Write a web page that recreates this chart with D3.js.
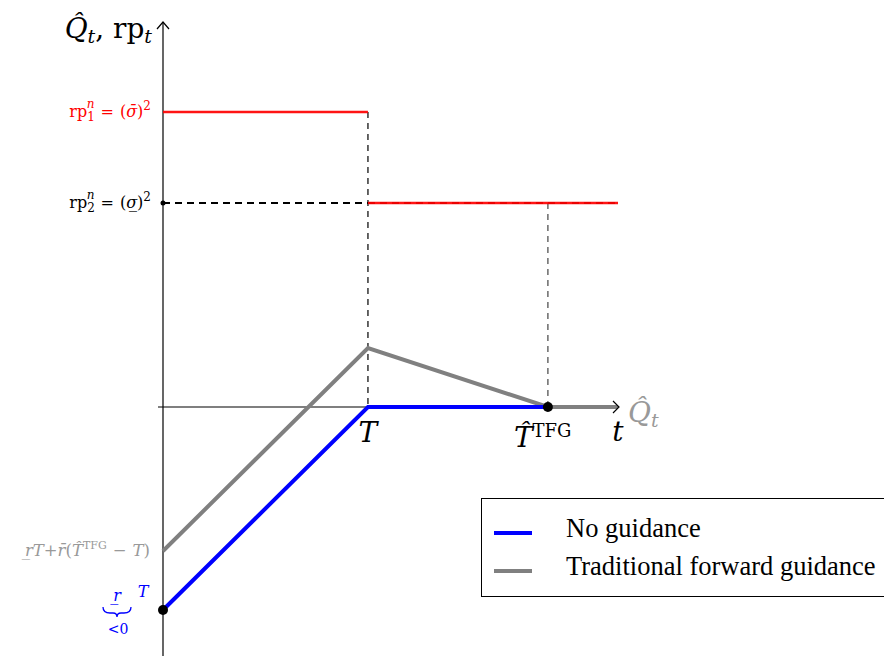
<!DOCTYPE html>
<html><head><meta charset="utf-8">
<script src="https://cdn.jsdelivr.net/npm/d3@7"></script>
<style>
html,body{margin:0;padding:0;background:#fff;}
svg{display:block;}
text{font-family:"DejaVu Serif",serif;}
.leg{font-family:"Liberation Serif","Times New Roman",serif;}
</style></head><body>
<svg id="c" width="884" height="656"></svg>
<script>
// ---- data ----
const T = 1.0;            // switch date
const T_TFG = 1.878;      // end of traditional forward guidance
const T_END = 2.22;       // end of plotted horizon
const blueT = [0, T, T_TFG];
const blueQ = [-2.03, 0, 0];
const grayT = [0, T, T_TFG, T_END];
const grayQ = [-1.44, 0.59, 0, 0];
const rpSegT = [[0, T], [T, T_END]];
const rpVals = [2.95, 2.04];
const legendNames = ["No guidance", "Traditional forward guidance"];
const legendColors = ["#0000ff", "#808080"];

const svg = d3.select("#c");
const x = d3.scaleLinear().domain([0, T_END]).range([163, 618]);
const y = d3.scaleLinear().domain([-2.49, 3.85]).range([656, 22]);

// axes
svg.append("line").attr("x1", x(0)).attr("x2", x(0)).attr("y1", 656).attr("y2", y(3.85))
  .attr("stroke", "#000").attr("stroke-width", 1.2);
svg.append("path").attr("d", `M${x(0)-6},${y(3.85)+7} L${x(0)},${y(3.85)} L${x(0)+6},${y(3.85)+7}`)
  .attr("fill", "none").attr("stroke", "#000").attr("stroke-width", 1.2);
svg.append("line").attr("x1", x(0) - 5).attr("x2", x(T_END)).attr("y1", y(0)).attr("y2", y(0))
  .attr("stroke", "#000").attr("stroke-width", 1.2);

// dashed guides
svg.append("line").attr("x1", x(0)).attr("x2", x(T)).attr("y1", y(rpVals[1])).attr("y2", y(rpVals[1]))
  .attr("stroke", "#000").attr("stroke-width", 2).attr("stroke-dasharray", "7,5");
svg.append("line").attr("x1", x(T)).attr("x2", x(T_END)).attr("y1", y(rpVals[1])).attr("y2", y(rpVals[1]))
  .attr("stroke", "#000").attr("stroke-width", 2).attr("stroke-dasharray", "7,5");
svg.append("line").attr("x1", x(T)).attr("x2", x(T)).attr("y1", y(rpVals[0])).attr("y2", y(0))
  .attr("stroke", "#000").attr("stroke-width", 1.2).attr("stroke-dasharray", "6,5");
svg.append("line").attr("x1", x(T_TFG)).attr("x2", x(T_TFG)).attr("y1", y(rpVals[1])).attr("y2", y(0))
  .attr("stroke", "#444").attr("stroke-width", 1.2).attr("stroke-dasharray", "6,5");

// red risk premium segments
svg.selectAll(".rp").data(rpSegT).join("line").attr("class", "rp")
  .attr("x1", d => x(d[0])).attr("x2", d => x(d[1]))
  .attr("y1", (d, i) => y(rpVals[i])).attr("y2", (d, i) => y(rpVals[i]))
  .attr("stroke", "#ff0000").attr("stroke-width", 2.4).attr("stroke-opacity", 0.92);

const line = d3.line().x(d => x(d[0])).y(d => y(d[1]));
svg.append("path").attr("d", line(grayT.map((t, i) => [t, grayQ[i]])))
  .attr("fill", "none").attr("stroke", "#808080").attr("stroke-width", 4);
svg.append("path").attr("d", line(blueT.map((t, i) => [t, blueQ[i]])))
  .attr("fill", "none").attr("stroke", "#0000ff").attr("stroke-width", 4);

// x arrow head
svg.append("path").attr("d", `M${x(T_END)-5},${y(0)-6} L${x(T_END)+1},${y(0)} L${x(T_END)-5},${y(0)+6}`)
  .attr("fill", "none").attr("stroke", "#000").attr("stroke-width", 1.2);

// dots
svg.append("circle").attr("cx", x(0)).attr("cy", y(rpVals[1])).attr("r", 2.5).attr("fill", "#000");
svg.append("circle").attr("cx", x(0)).attr("cy", y(blueQ[0])).attr("r", 5).attr("fill", "#000");
svg.append("circle").attr("cx", x(T_TFG)).attr("cy", y(0)).attr("r", 5).attr("fill", "#000");

// ---- texts ----
// y-axis title
const yt = svg.append("text").attr("x", 152).attr("y", 38).attr("text-anchor", "end")
  .attr("font-size", 28).attr("fill", "#000");
yt.append("tspan").attr("font-style", "italic").text("Q\u0302");
yt.append("tspan").attr("font-style", "italic").attr("font-size", 19).attr("dy", 5).text("t");
yt.append("tspan").attr("dy", -5).text(", rp");
yt.append("tspan").attr("font-style", "italic").attr("font-size", 19).attr("dy", 5).text("t");

// rp labels
function rpLabel(yy, sub, color, sym) {
  const g = svg.append("text").attr("x", 151).attr("y", yy + 5).attr("text-anchor", "end")
    .attr("font-size", 16).attr("fill", color);
  g.append("tspan").text("rp");
  g.append("tspan").attr("font-size", 12).attr("dy", 4).text(sub);
  g.append("tspan").attr("font-size", 12).attr("font-style", "italic").attr("dx", -8).attr("dy", -13).text("n");
  g.append("tspan").attr("dy", 9).attr("dx", 6).text("=");
  g.append("tspan").attr("dx", 6).text("(");
  g.append("tspan").attr("font-style", "italic").text(sym);
  g.append("tspan").text(")");
  g.append("tspan").attr("font-size", 12).attr("dy", -7).text("2");
}
rpLabel(y(rpVals[0]), "1", "#ff0000", "\u03C3\u0304");
rpLabel(y(rpVals[1]), "2", "#000", "\u03C3\u0332");

// gray intercept label
const gl = svg.append("text").attr("x", 150).attr("y", y(grayQ[0]) + 5).attr("text-anchor", "end")
  .attr("font-size", 16.5).attr("fill", "#999");
gl.append("tspan").attr("font-style", "italic").text("r\u0332T");
gl.append("tspan").text("+");
gl.append("tspan").attr("font-style", "italic").text("r\u0304");
gl.append("tspan").text("(");
gl.append("tspan").attr("font-style", "italic").text("T\u0302");
gl.append("tspan").attr("font-size", 11).attr("dy", -7).text("TFG");
gl.append("tspan").attr("dy", 7).attr("dx", 6).text("\u2212");
gl.append("tspan").attr("dx", 6).attr("font-style", "italic").text("T");
gl.append("tspan").text(")");

// blue intercept label
svg.append("text").attr("x", 117).attr("y", 601).attr("text-anchor", "middle")
  .attr("font-size", 16).attr("font-style", "italic").attr("fill", "#0000ff").text("r\u0332");
svg.append("text").attr("x", 143).attr("y", 597).attr("text-anchor", "middle")
  .attr("font-size", 16).attr("font-style", "italic").attr("fill", "#0000ff").text("T");
svg.append("path").attr("d", "M103,607 Q103,613 110,613 L113,613 Q117,613 117,617 Q117,613 121,613 L124,613 Q131,613 131,607")
  .attr("fill", "none").attr("stroke", "#0000ff").attr("stroke-width", 1.3);
svg.append("text").attr("x", 118).attr("y", 634).attr("text-anchor", "middle")
  .attr("font-size", 14).attr("fill", "#0000ff").text("<0");

// time labels
svg.append("text").attr("x", x(T)).attr("y", 442).attr("text-anchor", "middle")
  .attr("font-size", 28).attr("font-style", "italic").text("T");
const tt = svg.append("text").attr("x", x(T_TFG) - 34).attr("y", 447).attr("font-size", 28);
tt.append("tspan").attr("font-style", "italic").text("T\u0302");
tt.append("tspan").attr("font-size", 18).attr("dy", -10).text("TFG");
svg.append("text").attr("x", x(T_END)).attr("y", 441).attr("text-anchor", "middle")
  .attr("font-size", 28).attr("font-style", "italic").text("t");
const qt = svg.append("text").attr("x", 628).attr("y", 422).attr("font-size", 28).attr("fill", "#999");
qt.append("tspan").attr("font-style", "italic").text("Q\u0302");
qt.append("tspan").attr("font-style", "italic").attr("font-size", 19).attr("dy", 5).text("t");

// legend
svg.append("rect").attr("x", 481.5).attr("y", 498.5).attr("width", 420).attr("height", 98)
  .attr("fill", "#fff").attr("stroke", "#000").attr("stroke-width", 1);
legendNames.forEach((n, i) => {
  const yy = 533 + i * 38;
  svg.append("line").attr("x1", 494).attr("x2", 532).attr("y1", yy).attr("y2", yy)
    .attr("stroke", legendColors[i]).attr("stroke-width", 4);
  svg.append("text").attr("class", "leg").attr("x", 566).attr("y", yy + 4).attr("font-size", 26.5)
    .attr("fill", "#000").text(n);
});
</script></body></html>
